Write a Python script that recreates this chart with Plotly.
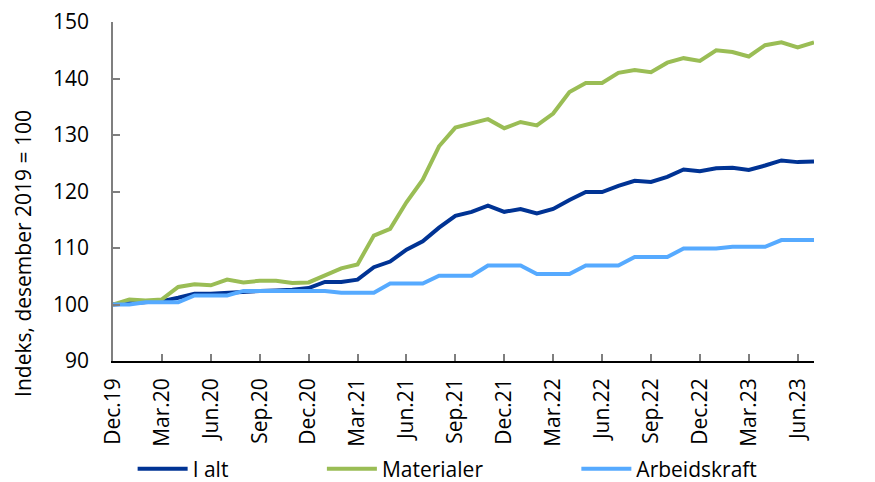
import plotly.graph_objects as go

months = ["2019-12",
          "2020-01", "2020-02", "2020-03", "2020-04", "2020-05", "2020-06",
          "2020-07", "2020-08", "2020-09", "2020-10", "2020-11", "2020-12",
          "2021-01", "2021-02", "2021-03", "2021-04", "2021-05", "2021-06",
          "2021-07", "2021-08", "2021-09", "2021-10", "2021-11", "2021-12",
          "2022-01", "2022-02", "2022-03", "2022-04", "2022-05", "2022-06",
          "2022-07", "2022-08", "2022-09", "2022-10", "2022-11", "2022-12",
          "2023-01", "2023-02", "2023-03", "2023-04", "2023-05", "2023-06",
          "2023-07"]

i_alt = [100.0, 100.2, 100.4, 100.6, 101.2, 101.9, 101.9, 102.1, 102.3, 102.4,
         102.5, 102.6, 102.9, 104.0, 104.0, 104.4, 106.6, 107.6, 109.7, 111.2,
         113.6, 115.7, 116.4, 117.5, 116.4, 116.9, 116.1, 116.9, 118.5, 119.9,
         119.9, 121.0, 121.9, 121.7, 122.6, 123.9, 123.6, 124.1, 124.2, 123.8,
         124.6, 125.5, 125.2, 125.3]

materialer = [100.0, 100.9, 100.7, 100.9, 103.1, 103.6, 103.4, 104.4, 103.9, 104.2,
              104.2, 103.8, 103.9, 105.2, 106.4, 107.1, 112.2, 113.4, 118.1, 122.1,
              128.0, 131.3, 132.1, 132.8, 131.2, 132.3, 131.7, 133.8, 137.6, 139.2,
              139.2, 141.0, 141.5, 141.1, 142.8, 143.6, 143.1, 145.0, 144.7, 143.9,
              145.9, 146.4, 145.5, 146.4]

arbeidskraft = [100.0, 100.0, 100.4, 100.4, 100.4, 101.6, 101.6, 101.6, 102.4, 102.4,
                102.4, 102.4, 102.4, 102.4, 102.1, 102.1, 102.1, 103.7, 103.7, 103.7,
                105.1, 105.1, 105.1, 106.9, 106.9, 106.9, 105.4, 105.4, 105.4, 106.9,
                106.9, 106.9, 108.4, 108.4, 108.4, 109.9, 109.9, 109.9, 110.2, 110.2,
                110.2, 111.4, 111.4, 111.4]

tick_months = ["2019-12", "2020-03", "2020-06", "2020-09", "2020-12", "2021-03",
               "2021-06", "2021-09", "2021-12", "2022-03", "2022-06", "2022-09",
               "2022-12", "2023-03", "2023-06"]
tick_labels = ["Dec.19", "Mar.20", "Jun.20", "Sep.20", "Dec.20", "Mar.21",
               "Jun.21", "Sep.21", "Dec.21", "Mar.22", "Jun.22", "Sep.22",
               "Dec.22", "Mar.23", "Jun.23"]

y_ticks = [90, 100, 110, 120, 130, 140, 150]
y_title = "Indeks, desember 2019 = 100"

FONT = "Open Sans"
FS = 21
C_DARK = "#003394"
C_GREEN = "#9abd55"
C_LIGHT = "#56aaff"

fig = go.Figure()
fig.add_trace(go.Scatter(x=months, y=i_alt, name="I alt", mode="lines",
                         line=dict(color=C_DARK, width=4), legend="legend"))
fig.add_trace(go.Scatter(x=months, y=materialer, name="Materialer", mode="lines",
                         line=dict(color=C_GREEN, width=4), legend="legend2"))
fig.add_trace(go.Scatter(x=months, y=arbeidskraft, name="Arbeidskraft", mode="lines",
                         line=dict(color=C_LIGHT, width=4), legend="legend3"))

leg_common = dict(orientation="h", yref="container", yanchor="middle", y=0.0274,
                  xanchor="left",
                  font=dict(family=FONT, size=FS, color="#000000"),
                  bgcolor="rgba(0,0,0,0)", itemwidth=50)

tf = dict(family=FONT, size=FS, color="#000000")

# the page body has an 8px default margin, so the figure is drawn 8px smaller
fig.update_layout(
    width=867, height=474,
    margin=dict(l=105, r=61, t=14, b=121),
    paper_bgcolor="white", plot_bgcolor="white",
    font=tf,
    showlegend=True,
    legend=dict(x=0.028, **leg_common),
    legend2=dict(x=0.298, **leg_common),
    legend3=dict(x=0.661, **leg_common),
    xaxis=dict(
        type="category", range=[0, len(months) - 1], automargin=False,
        tickmode="array", tickvals=tick_months, ticktext=tick_labels,
        tickangle=-90, ticks="inside", ticklen=7, tickcolor="#7f7f7f", tickwidth=1.5,
        showline=True, linecolor="#000000", linewidth=1.5,
        showgrid=False, zeroline=False, ticklabelstandoff=7,
        ticklabeloverflow="allow",
        tickfont=tf,
    ),
    yaxis=dict(
        range=[90, 150], tickvals=y_ticks, ticks="inside", ticklen=7,
        tickcolor="#7f7f7f", tickwidth=1.5, automargin=False,
        showline=True, linecolor="#7f7f7f", linewidth=1.5,
        showgrid=False, zeroline=False,
        ticklabelstandoff=18, ticklabeloverflow="allow",
        tickfont=tf,
    ),
    yaxis2=dict(
        range=[90, 150], tickvals=y_ticks, ticks="inside", ticklen=7,
        tickcolor="#000000", tickwidth=1.5, automargin=False,
        overlaying="y", side="right", anchor="x",
        showline=True, linecolor="#000000", linewidth=2,
        showgrid=False, zeroline=False,
        ticklabelstandoff=18, ticklabeloverflow="allow",
        tickfont=tf,
    ),
    annotations=[dict(
        text=y_title, xref="paper", yref="paper", x=-0.1288, y=0.318,
        xanchor="center", yanchor="middle", textangle=-90, showarrow=False,
        font=tf,
    )],
)

fig.write_html("out.html")
